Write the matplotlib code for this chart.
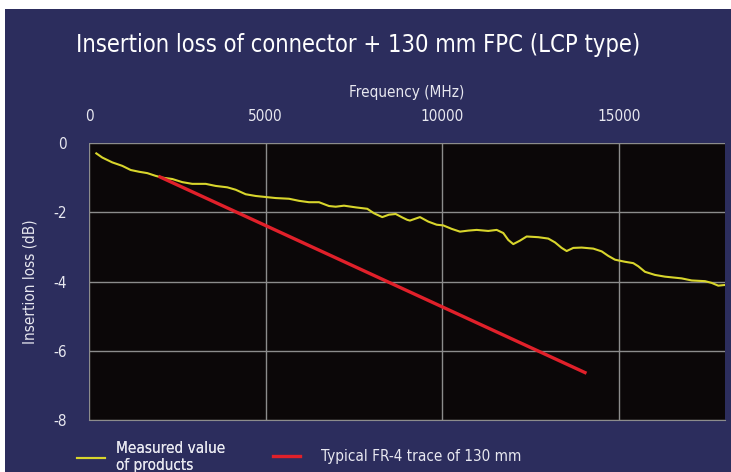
import matplotlib.pyplot as plt
from matplotlib.patches import Rectangle

# measured curve
freq_meas = [207, 376, 659, 942, 1180, 1415, 1650, 1888, 2074, 2357, 2640, 2923,
             3303, 3586, 3914, 4152, 4435, 4718, 5001, 5284, 5660, 5943, 6226,
             6509, 6792, 6982, 7217, 7556, 7876, 8066, 8300, 8490, 8680, 8866,
             9008, 9084, 9367, 9602, 9840, 10027, 10264, 10499, 10734, 10972,
             11300, 11538, 11725, 11866, 12008, 12197, 12387, 12715, 12998, 13188,
             13377, 13519, 13706, 13943, 14272, 14510, 14696, 14886, 15169, 15404,
             15545, 15735, 16018, 16301, 16773, 17056, 17433, 17622, 17809, 17999]
loss_meas = [-0.30, -0.42, -0.56, -0.66, -0.78, -0.83, -0.87, -0.95, -1.00, -1.04,
             -1.13, -1.18, -1.18, -1.24, -1.28, -1.35, -1.48, -1.53, -1.56, -1.59,
             -1.61, -1.67, -1.71, -1.71, -1.82, -1.84, -1.81, -1.86, -1.90, -2.03,
             -2.14, -2.07, -2.05, -2.15, -2.22, -2.24, -2.14, -2.27, -2.36, -2.38,
             -2.48, -2.56, -2.53, -2.51, -2.54, -2.51, -2.60, -2.80, -2.92, -2.82,
             -2.70, -2.72, -2.76, -2.87, -3.03, -3.12, -3.03, -3.02, -3.05, -3.13,
             -3.26, -3.37, -3.43, -3.47, -3.56, -3.72, -3.81, -3.86, -3.91, -3.97,
             -3.99, -4.04, -4.12, -4.10]

# typical FR-4 trace
freq_fr4 = [2009, 14037]
loss_fr4 = [-0.98, -6.63]

xticks = [0, 5000, 10000, 15000]
yticks = [0, -2, -4, -6, -8]

navy = '#2c2d5d'
txt = '#e8e8f0'
plt.rcParams['font.family'] = ['DejaVu Sans']
plt.rcParams['font.stretch'] = 'condensed'
plt.rcParams['axes.unicode_minus'] = False

W, H = 731, 472
fig = plt.figure(figsize=(W / 100, H / 100), dpi=100)
fig.patch.set_facecolor(navy)
# white strips on top and left edge
fig.patches.append(Rectangle((0, (H - 9) / H), 1, 9 / H, transform=fig.transFigure,
                             facecolor='white', edgecolor='none'))
fig.patches.append(Rectangle((0, 0), 5 / W, 1, transform=fig.transFigure,
                             facecolor='white', edgecolor='none'))

ax = fig.add_axes([89 / W, (H - 420) / H, (725 - 89) / W, (420 - 143) / H])
ax.set_facecolor('#0b0708')
l1, = ax.plot(freq_meas, loss_meas, color='#d8d52c', lw=1.5, solid_joinstyle='round',
              label='Measured value\nof products')
l2, = ax.plot(freq_fr4, loss_fr4, color='#e0202a', lw=2.4, label='Typical FR-4 trace of 130 mm')

ax.set_xlim(0, 18000)
ax.set_ylim(-8, 0)
ax.set_xticks(xticks)
ax.set_yticks(yticks)
ax.xaxis.tick_top()
ax.xaxis.set_label_position('top')
ax.tick_params(length=0, colors=txt, labelsize=11)
ax.tick_params(axis='x', pad=14)
ax.tick_params(axis='y', pad=16)
ax.grid(True, color='#8c8c8c', lw=1)
for s in ['top', 'left', 'right']:
    ax.spines[s].set_visible(False)
ax.spines['bottom'].set_color('#8c8c8c')
ax.set_xlabel('Frequency (MHz)', color=txt, fontsize=11, labelpad=8)
ax.set_ylabel('Insertion loss (dB)', color=txt, fontsize=11, labelpad=11)

fig.text(358 / W, (H - 45) / H, 'Insertion loss of connector + 130 mm FPC (LCP type)',
         ha='center', va='center', color='white', fontsize=17)

leg1 = fig.legend(handles=[l1], loc='center left', bbox_to_anchor=(77 / W, (H - 457) / H),
                  frameon=False, fontsize=11, labelcolor=txt, handlelength=1.8,
                  handletextpad=0.75, borderpad=0, borderaxespad=0)
fig.legend(handles=[l2], loc='center left', bbox_to_anchor=(273 / W, (H - 457) / H),
           frameon=False, fontsize=11, labelcolor=txt, handlelength=1.75,
           handletextpad=1.4, borderpad=0, borderaxespad=0)
fig.add_artist(leg1)

fig.savefig('out.png', dpi=100, facecolor=fig.get_facecolor())
